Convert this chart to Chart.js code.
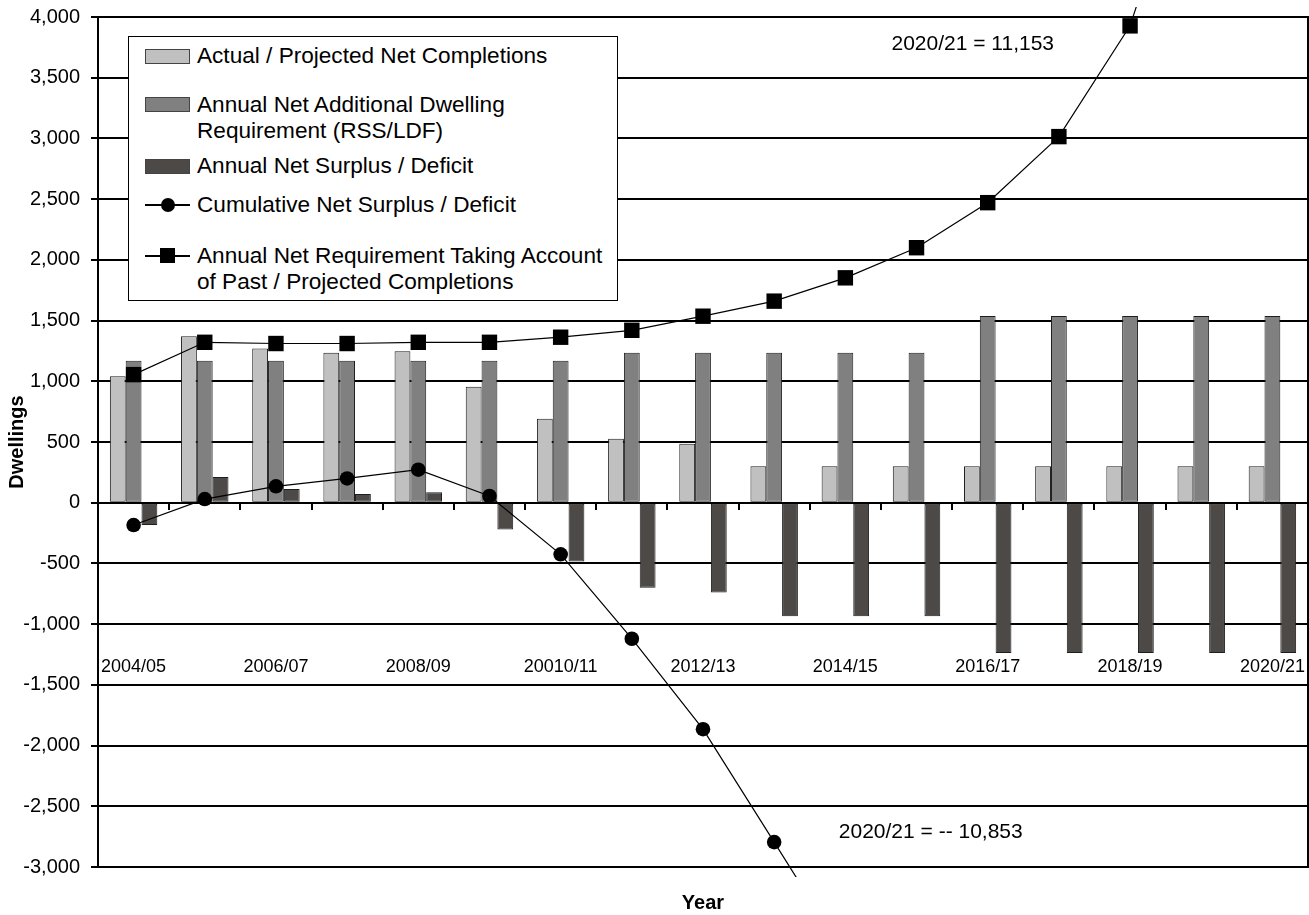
<!DOCTYPE html>
<html>
<head>
<meta charset="utf-8">
<title>Dwellings: completions against requirement</title>
<script src="https://cdn.jsdelivr.net/npm/chart.js@4/dist/chart.umd.min.js"></script>
<style>
  html, body { margin: 0; padding: 0; background: #fff; }
  #wrap { position: relative; width: 1309px; height: 915px; }
  #chart { display: block; }
  #legend {
    position: absolute; box-sizing: border-box; width: 490px; height: 265px;
    border: 1px solid #000; background: #fff;
    font-family: 'Liberation Sans', Arial, sans-serif; font-size: 22.6px; color: #000;
  }
  #legend .item { position: absolute; left: 0; right: 0; }
  #legend .text { position: absolute; left: 68px; top: 0; line-height: 26.7px; white-space: nowrap; }
  #legend .swatch { position: absolute; left: 16px; width: 45px; height: 15px; box-sizing: border-box; border: 1px solid #444; }
  #legend .linekey { position: absolute; left: 16px; width: 45px; height: 16px; }
  #legend .linekey .stroke { position: absolute; left: 0; right: 0; top: 7.5px; height: 1.4px; background: #000; }
  #legend .linekey .dot { position: absolute; background: #000; }
</style>
</head>
<body>
<div id="wrap">
  <canvas id="chart" width="1309" height="915"></canvas>
  <div id="legend"></div>
</div>
<script>
// Financial years on the category axis (label for 2010/11 kept as printed)
const categories = [
  '2004/05', '2005/06', '2006/07', '2007/08', '2008/09', '2009/10', '20010/11',
  '2011/12', '2012/13', '2013/14', '2014/15', '2015/16', '2016/17', '2017/18',
  '2018/19', '2019/20', '2020/21'
];

// Actual / projected net completions
const completions = [1041, 1371, 1270, 1234, 1247, 956, 692, 527, 486, 300, 300, 300, 300, 300, 300, 300, 300];

// Annual net additional dwelling requirement (RSS/LDF)
const requirement = [1170, 1170, 1170, 1170, 1170, 1170, 1170, 1235, 1235, 1235, 1235, 1235, 1537, 1537, 1537, 1537, 1537];

// Annual net surplus / deficit
const annualSurplus = [-184, 212, 113, 72, 86, -220, -484, -700, -740, -935, -935, -935, -1237, -1237, -1237, -1237, -1237];

// Cumulative net surplus / deficit
const cumulativeSurplus = [-184, 30, 135, 200, 272, 55, -425, -1120, -1865, -2795, -3730, -4665, -5902, -7139, -8376, -9613, -10853];

// Annual net requirement taking account of past / projected completions
const adjustedRequirement = [1055, 1321, 1311, 1311, 1321, 1321, 1363, 1420, 1536, 1660, 1852, 2100, 2471, 3015, 3927, 5720, 11153];

// Value axis range and step
const yMin = -3000;
const yMax = 4000;
const yStep = 500;

function withCommas(n) {
  const s = String(Math.abs(Math.round(n))).replace(/\B(?=(\d{3})+(?!\d))/g, ',');
  return (n < 0 ? '-' : '') + s;
}

const lastIdx = categories.length - 1;
const annotations = [
  { text: categories[lastIdx] + ' = ' + withCommas(adjustedRequirement[lastIdx]), at: [11.79, 3778] },
  { text: categories[lastIdx] + ' = -- ' + withCommas(Math.abs(cumulativeSurplus[lastIdx])), at: [11.2, -2712] }
];

Chart.defaults.font.family = "'Liberation Sans', Arial, sans-serif";
Chart.defaults.color = '#000';

// Right-hand edge of the plot frame
const frame = {
  id: 'frame',
  afterDatasetsDraw(chart) {
    const { ctx, chartArea: a } = chart;
    ctx.save();
    ctx.strokeStyle = '#000';
    ctx.lineWidth = 2;
    ctx.beginPath();
    ctx.moveTo(Math.round(a.right), a.top - 1);
    ctx.lineTo(Math.round(a.right), a.bottom + 1);
    ctx.stroke();
    ctx.restore();
  }
};

// Value notes for the final year of the off-scale series
const notes = {
  id: 'notes',
  afterDatasetsDraw(chart, args, opts) {
    const { ctx, scales } = chart;
    ctx.save();
    ctx.font = opts.font;
    ctx.fillStyle = '#000';
    ctx.textAlign = 'center';
    ctx.textBaseline = 'middle';
    opts.items.forEach(n => {
      ctx.fillText(n.text, scales.x.getPixelForValue(n.at[0]), scales.y.getPixelForValue(n.at[1]));
    });
    ctx.restore();
  }
};

// Boxed legend laid over the plot area, built from the datasets
const htmlLegend = {
  id: 'htmlLegend',
  afterUpdate(chart, args, opts) {
    const box = document.getElementById('legend');
    const a = chart.chartArea;
    box.style.left = (a.left + opts.offsetX) + 'px';
    box.style.top = (a.top + opts.offsetY) + 'px';
    box.innerHTML = '';
    chart.data.datasets.forEach((ds, i) => {
      const row = document.createElement('div');
      row.className = 'item';
      row.style.top = (opts.rowCentres[i] - opts.lineHeight / 2) + 'px';

      let key;
      if (ds.type === 'line') {
        key = document.createElement('div');
        key.className = 'linekey';
        key.style.top = (opts.lineHeight / 2 - 8) + 'px';
        const stroke = document.createElement('div');
        stroke.className = 'stroke';
        const dot = document.createElement('div');
        dot.className = 'dot';
        const size = ds.pointStyle === 'rect' ? 15 : 14;
        dot.style.width = size + 'px';
        dot.style.height = size + 'px';
        dot.style.left = (22.5 - size / 2) + 'px';
        dot.style.top = (8 - size / 2) + 'px';
        if (ds.pointStyle !== 'rect') dot.style.borderRadius = '50%';
        key.appendChild(stroke);
        key.appendChild(dot);
      } else {
        key = document.createElement('div');
        key.className = 'swatch';
        key.style.background = ds.backgroundColor;
        key.style.top = (opts.lineHeight / 2 - 7.5) + 'px';
      }
      row.appendChild(key);

      const text = document.createElement('div');
      text.className = 'text';
      const lines = Array.isArray(ds.label) ? ds.label : [ds.label];
      lines.forEach(l => {
        const d = document.createElement('div');
        d.textContent = l;
        text.appendChild(d);
      });
      row.appendChild(text);
      box.appendChild(row);
    });
  }
};

const barStyle = { borderColor: '#1e1e1e', borderWidth: 1, borderSkipped: false, categoryPercentage: 2 / 3, barPercentage: 1, order: 1 };
const lineStyle = {
  type: 'line', borderColor: '#000', borderWidth: 1.2, tension: 0,
  pointBackgroundColor: '#000', pointBorderColor: '#000', pointBorderWidth: 0,
  clip: { left: 10, top: 10, right: 10, bottom: 10 }, order: 0
};

function noEdgePadding(s) {
  s.paddingLeft = 0;
  s.paddingRight = 0;
  s.paddingTop = 0;
  s.paddingBottom = 0;
}

new Chart(document.getElementById('chart'), {
  type: 'bar',
  data: {
    labels: categories,
    datasets: [
      Object.assign({ label: 'Actual / Projected Net Completions', data: completions, backgroundColor: '#c0c0c0' }, barStyle),
      Object.assign({ label: ['Annual Net Additional Dwelling', 'Requirement (RSS/LDF)'], data: requirement, backgroundColor: '#808080' }, barStyle),
      Object.assign({ label: 'Annual Net Surplus / Deficit', data: annualSurplus, backgroundColor: '#4d4946' }, barStyle),
      Object.assign({ label: 'Cumulative Net Surplus / Deficit', data: cumulativeSurplus, pointStyle: 'circle', pointRadius: 7.3 }, lineStyle),
      Object.assign({ label: ['Annual Net Requirement Taking Account', 'of Past / Projected Completions'], data: adjustedRequirement, pointStyle: 'rect', pointRadius: 10.9 }, lineStyle)
    ]
  },
  options: {
    responsive: false,
    animation: false,
    devicePixelRatio: 1,
    layout: { autoPadding: false, padding: { top: 17, right: 1, bottom: 0, left: 0 } },
    plugins: {
      legend: { display: false },
      tooltip: { enabled: false },
      notes: { font: "21px 'Liberation Sans', Arial, sans-serif", items: annotations },
      htmlLegend: { offsetX: 30, offsetY: 19, lineHeight: 26.7, rowCentres: [19.7, 68, 129.7, 168, 219] }
    },
    scales: {
      x: {
        type: 'category',
        axis: 'x',
        position: { y: 0 },
        offset: true,
        grid: { display: true, drawOnChartArea: false, drawTicks: true, tickLength: 6, color: '#000', lineWidth: 2, offset: true },
        border: { display: true, color: '#000', width: 2 },
        ticks: {
          autoSkip: false, maxRotation: 0, minRotation: 0, padding: 148,
          font: { size: 18 }, color: '#000',
          callback: (v, i) => (i % 2 === 0 ? categories[i] : '')
        },
        afterFit: s => { s.height = 0; noEdgePadding(s); }
      },
      xb: {
        type: 'category',
        axis: 'x',
        position: 'bottom',
        labels: categories,
        grid: { display: false },
        border: { display: false },
        ticks: { display: false },
        title: { display: true, text: 'Year', font: { size: 20, weight: 'bold' }, color: '#000', padding: { top: 0, bottom: 0 } },
        afterFit: s => { s.height = 48; noEdgePadding(s); }
      },
      y: {
        type: 'linear',
        position: 'left',
        min: yMin,
        max: yMax,
        grid: { color: '#000', lineWidth: 2, drawTicks: true, tickLength: 7 },
        border: { display: true, color: '#000', width: 2 },
        ticks: { stepSize: yStep, padding: 11, font: { size: 20 }, color: '#000', callback: v => withCommas(v) },
        title: { display: true, text: 'Dwellings', font: { size: 20, weight: 'bold' }, color: '#000', padding: { top: 5, bottom: 0 } },
        afterFit: s => { s.width = 98; noEdgePadding(s); }
      }
    }
  },
  plugins: [frame, notes, htmlLegend]
});
</script>
</body>
</html>
